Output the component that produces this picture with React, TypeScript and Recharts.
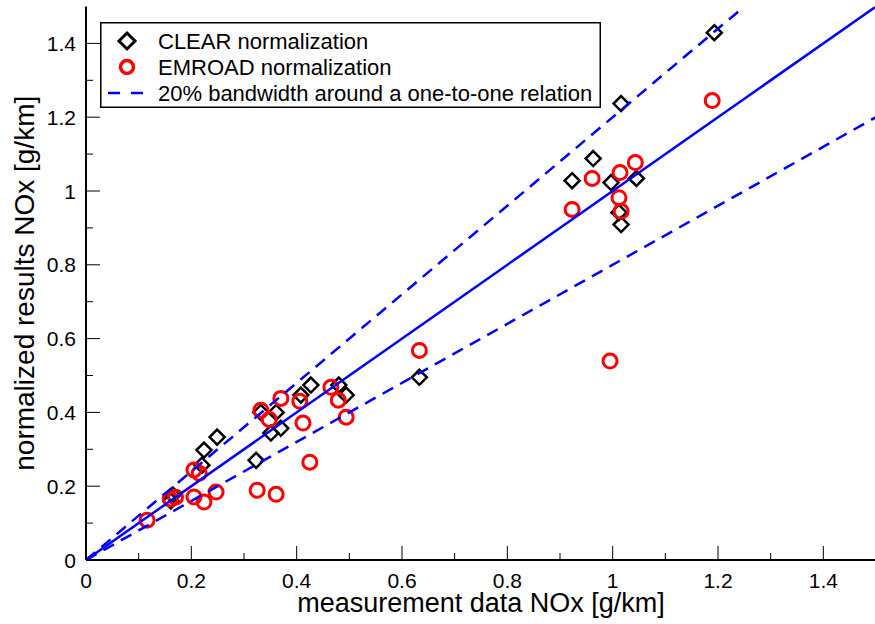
import React from 'react';
import { ScatterChart, Scatter, XAxis, YAxis, Legend } from 'recharts';

// CLEAR normalization (black diamonds)
const clearX = [0.161, 0.165, 0.220, 0.224, 0.249, 0.323, 0.332, 0.351, 0.361, 0.370, 0.408, 0.427, 0.480, 0.494, 0.633, 0.923, 0.963, 0.997, 1.045, 1.012, 1.016, 1.016, 1.193];
const clearY = [0.160, 0.176, 0.257, 0.298, 0.333, 0.270, 0.400, 0.344, 0.400, 0.357, 0.447, 0.474, 0.474, 0.447, 0.495, 1.028, 1.088, 1.023, 1.034, 0.942, 0.909, 1.237, 1.429];

// EMROAD normalization (red circles)
const emroadX = [0.116, 0.160, 0.170, 0.205, 0.215, 0.205, 0.224, 0.247, 0.325, 0.361, 0.332, 0.348, 0.370, 0.406, 0.412, 0.425, 0.465, 0.479, 0.494, 0.633, 0.923, 0.961, 1.014, 1.043, 1.012, 1.016, 0.995, 1.189];
const emroadY = [0.108, 0.165, 0.170, 0.244, 0.235, 0.171, 0.157, 0.184, 0.189, 0.178, 0.406, 0.381, 0.438, 0.430, 0.371, 0.265, 0.468, 0.433, 0.387, 0.568, 0.950, 1.034, 1.050, 1.077, 0.982, 0.945, 0.539, 1.245];

// reference lines
const oneToOneX = [0, 1.5];
const oneToOneY = [0, 1.5];
const upperBandX = [0, 1.25];
const upperBandY = [0, 1.5];
const lowerBandX = [0, 1.5];
const lowerBandY = [0, 1.2];

const axisTicks = [0, 0.1, 0.2, 0.3, 0.4, 0.5, 0.6, 0.7, 0.8, 0.9, 1.0, 1.1, 1.2, 1.3, 1.4];

const legendLabels = ['CLEAR normalization', 'EMROAD normalization', '20% bandwidth around a one-to-one relation'];
const xTitle = 'measurement data NOx [g/km]';
const yTitle = 'normalized results NOx [g/km]';

const zip = (xs: number[], ys: number[]) => xs.map((x, i) => ({ x, y: ys[i] }));
const clearData = zip(clearX, clearY);
const emroadData = zip(emroadX, emroadY);
const oneToOneData = zip(oneToOneX, oneToOneY);
const upperData = zip(upperBandX, upperBandY);
const lowerData = zip(lowerBandX, lowerBandY);

const BLUE = '#0000ff';
const RED = '#ff0000';
const MAJOR = 14;
const MINOR = 7;
const TICK_FONT = 21;

const isMajor = (v: number) => Math.round(v * 10) % 2 === 0;
const fmt = (v: number) => String(Number(v.toFixed(1)));

const BottomTick = (props: any) => {
  const { x, y, payload } = props;
  const v = payload.value;
  const major = isMajor(v);
  return (
    <g>
      <line x1={x} y1={y} x2={x} y2={y - (major ? MAJOR : MINOR)} stroke="#000" strokeWidth={1} />
      {major && (
        <text x={x} y={y + 13} dy="0.71em" textAnchor="middle" fontSize={TICK_FONT} fill="#000">
          {fmt(v)}
        </text>
      )}
    </g>
  );
};

const TopTick = (props: any) => {
  const { x, y, payload } = props;
  const major = isMajor(payload.value);
  return <line x1={x} y1={y} x2={x} y2={y + (major ? MAJOR : MINOR)} stroke="#000" strokeWidth={1} />;
};

const LeftTick = (props: any) => {
  const { x, y, payload } = props;
  const v = payload.value;
  const major = isMajor(v);
  return (
    <g>
      <line x1={x} y1={y} x2={x + (major ? MAJOR : MINOR)} y2={y} stroke="#000" strokeWidth={1} />
      {major && (
        <text x={x - 10} y={y} dy="0.36em" textAnchor="end" fontSize={TICK_FONT} fill="#000">
          {fmt(v)}
        </text>
      )}
    </g>
  );
};

const RightTick = (props: any) => {
  const { x, y, payload } = props;
  const major = isMajor(payload.value);
  return <line x1={x} y1={y} x2={x - (major ? MAJOR : MINOR)} y2={y} stroke="#000" strokeWidth={1} />;
};

const Diamond = (props: any) => {
  const { cx, cy } = props;
  if (cx == null || cy == null) return <g />;
  const r = 7.5;
  return (
    <polygon
      points={`${cx},${cy - r} ${cx + r},${cy} ${cx},${cy + r} ${cx - r},${cy}`}
      fill="none"
      stroke="#000"
      strokeWidth={2.5}
    />
  );
};

const Ring = (props: any) => {
  const { cx, cy } = props;
  if (cx == null || cy == null) return <g />;
  return <circle cx={cx} cy={cy} r={7} fill="none" stroke={RED} strokeWidth={3} />;
};

const NoShape = () => <g />;

const XTitle = (props: any) => {
  const vb = props.viewBox;
  return (
    <text x={vb.x + vb.width / 2} y={vb.y + 52} textAnchor="middle" fontSize={27} fill="#000">
      {xTitle}
    </text>
  );
};

const YTitle = (props: any) => {
  const vb = props.viewBox;
  const cx = vb.x + 34;
  const cy = vb.y + vb.height / 2;
  return (
    <text x={cx} y={cy} textAnchor="middle" fontSize={28} fill="#000" transform={`rotate(-90, ${cx}, ${cy})`}>
      {yTitle}
    </text>
  );
};

const LegendBox = () => (
  <svg width={501} height={86} style={{ display: 'block' }}>
    <rect x={0.75} y={0.75} width={499.5} height={84.5} fill="#fff" stroke="#000" strokeWidth={1.5} />
    <polygon points="27,11 35,19 27,27 19,19" fill="none" stroke="#000" strokeWidth={3} />
    <circle cx={27} cy={45} r={6.5} fill="none" stroke={RED} strokeWidth={3.5} />
    <line x1={8} y1={71} x2={43} y2={71} stroke={BLUE} strokeWidth={2.5} strokeDasharray="12 11" />
    {legendLabels.map((t, i) => (
      <text key={t} x={58} y={26.5 + i * 26} fontSize={22} fill="#000">
        {t}
      </text>
    ))}
  </svg>
);

export default function App() {
  return (
    <div
      style={{
        position: 'absolute',
        left: 0,
        top: 0,
        width: 875,
        height: 624,
        overflow: 'hidden',
        background: '#fff',
        fontFamily: '"Liberation Sans", Arial, Helvetica, sans-serif',
      }}
    >
      <ScatterChart width={878} height={624} margin={{ top: 6.5, right: 2, bottom: 0, left: 0 }}>
        <XAxis
          xAxisId="b"
          type="number"
          dataKey="x"
          domain={[0, 1.5]}
          ticks={axisTicks}
          interval={0}
          height={64}
          tickSize={0}
          tickMargin={0}
          tickLine={false}
          tick={<BottomTick />}
          axisLine={{ stroke: '#000', strokeWidth: 2 }}
          label={<XTitle />}
          allowDataOverflow
        />
        <XAxis
          xAxisId="t"
          orientation="top"
          type="number"
          dataKey="x"
          domain={[0, 1.5]}
          ticks={axisTicks}
          interval={0}
          height={0}
          tickSize={0}
          tickMargin={0}
          tickLine={false}
          tick={<TopTick />}
          axisLine={{ stroke: '#000', strokeWidth: 1.2 }}
          allowDataOverflow
        />
        <YAxis
          yAxisId="l"
          type="number"
          dataKey="y"
          domain={[0, 1.5]}
          ticks={axisTicks}
          interval={0}
          width={86}
          tickSize={0}
          tickMargin={0}
          tickLine={false}
          tick={<LeftTick />}
          axisLine={{ stroke: '#000', strokeWidth: 2 }}
          label={<YTitle />}
          allowDataOverflow
        />
        <YAxis
          yAxisId="r"
          orientation="right"
          type="number"
          dataKey="y"
          domain={[0, 1.5]}
          ticks={axisTicks}
          interval={0}
          width={0}
          tickSize={0}
          tickMargin={0}
          tickLine={false}
          tick={<RightTick />}
          axisLine={{ stroke: '#000', strokeWidth: 1.2 }}
          allowDataOverflow
        />
        <Scatter name={legendLabels[0]} data={clearData} xAxisId="b" yAxisId="l" shape={<Diamond />} isAnimationActive={false} />
        <Scatter name={legendLabels[1]} data={emroadData} xAxisId="b" yAxisId="l" shape={<Ring />} isAnimationActive={false} />
        <Scatter
          name="one-to-one"
          data={oneToOneData}
          xAxisId="b"
          yAxisId="l"
          shape={<NoShape />}
          line={{ stroke: BLUE, strokeWidth: 2.5 }}
          isAnimationActive={false}
        />
        <Scatter
          name="upper 20%"
          data={upperData}
          xAxisId="b"
          yAxisId="l"
          shape={<NoShape />}
          line={{ stroke: BLUE, strokeWidth: 2.5, strokeDasharray: '12 8' }}
          isAnimationActive={false}
        />
        <Scatter
          name="lower 20%"
          data={lowerData}
          xAxisId="b"
          yAxisId="l"
          shape={<NoShape />}
          line={{ stroke: BLUE, strokeWidth: 2.5, strokeDasharray: '12 8' }}
          isAnimationActive={false}
        />
        <Legend
          layout="vertical"
          align="center"
          verticalAlign="middle"
          content={<LegendBox />}
          wrapperStyle={{ left: 100, top: 22, width: 501, height: 86 }}
        />
      </ScatterChart>
    </div>
  );
}
